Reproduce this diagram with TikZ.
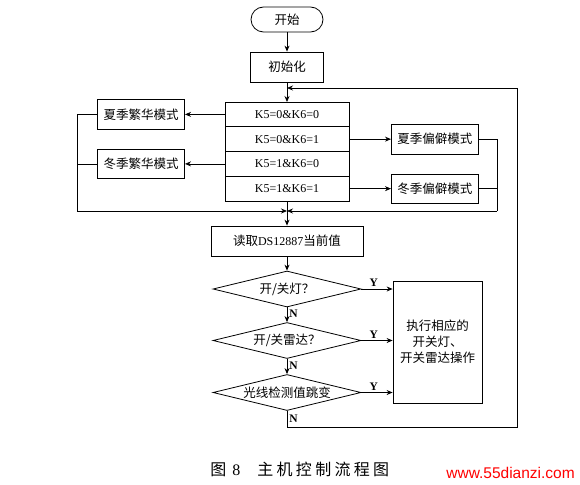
\documentclass[tikz,border=0pt]{standalone}
\usepackage{fontspec}
\setmainfont{Liberation Serif}
\newfontfamily\cjk{Noto Sans CJK SC}
\newfontfamily\webfont{Liberation Sans}
\usetikzlibrary{arrows.meta, shapes.geometric, positioning}

\begin{document}
\begin{tikzpicture}[x=1pt, y=-1pt, line width=0.8pt,
    >={Stealth[length=6pt,width=5pt]},
    box/.style={draw, rectangle, inner sep=0pt, font=\cjk\fontsize{12.5}{16}\selectfont},
    sidebox/.style={box, minimum width=87pt, minimum height=29.5pt},
    kbox/.style={draw, rectangle, inner sep=0pt, outer sep=0pt,
      minimum width=124pt, minimum height=24.75pt, font=\fontsize{12}{14}\selectfont},
    test/.style={draw, diamond, aspect=4.08, inner sep=0pt,
      minimum width=148pt, minimum height=36pt, font=\cjk\fontsize{12.5}{14}\selectfont},
    lbl/.style={font=\bfseries\fontsize{11.5}{12}\selectfont, inner sep=2pt}]
  \useasboundingbox (0,0) rectangle (580,484);

  %--- start and init ---
  \node[box, rounded corners=12.5pt, minimum width=72pt, minimum height=25pt] (start) at (287,19.5) {开始};
  \node[box, minimum width=73pt, minimum height=30pt] (init) at (287,67) {初始化};

  %--- key states ---
  \node[kbox] (k1) at (287,114.4) {K5=0\&K6=0};
  \node[kbox, below=0pt of k1] (k2) {K5=0\&K6=1};
  \node[kbox, below=0pt of k2] (k3) {K5=1\&K6=0};
  \node[kbox, below=0pt of k3] (k4) {K5=1\&K6=1};

  %--- modes ---
  \node[sidebox, left=40pt of k1] (sfan) {夏季繁华模式};
  \node[sidebox, left=40pt of k3] (wfan) {冬季繁华模式};
  \node[sidebox, right=42pt of k2] (srem) {夏季偏僻模式};
  \node[sidebox, right=42pt of k4] (wrem) {冬季偏僻模式};

  %--- main loop ---
  \node[box, minimum width=152pt, minimum height=30pt] (read) at (287,241)
    {读取{\rmfamily\fontsize{12}{14}\selectfont DS12887}当前值};
  \node[test] (d1) at (287,289) {开/关灯？};
  \node[test] (d2) at (287,340.5) {开/关雷达？};
  \node[test] (d3) at (287,392.5) {光线检测值跳变};
  \node[box, align=center, minimum width=89pt, minimum height=122pt] (act) at (437.5,342)
    {执行相应的\\开关灯、\\开关雷达操作};

  \coordinate (entry) at (287,88);
  \coordinate (merge) at (287,211);
  \coordinate (lbend) at (77,211);
  \coordinate (rbend) at (497,211);
  \coordinate (loopbr) at (517,427);

  % top part
  \draw[->] (start) -- (init);
  \draw[->] (init) -- (k1);
  \draw[->] (k1) -- (sfan);
  \draw[->] (k3) -- (wfan);
  \draw[->] (k2) -- (srem);
  \draw[->] (k4) -- (wrem);

  % merging back
  \draw (sfan.west) -| (lbend);
  \draw (wfan.west) -- (wfan.west -| lbend);
  \draw[->] (lbend) -- (merge);
  \draw (srem.east) -| (rbend);
  \draw (wrem.east) -- (wrem.east -| rbend);
  \draw[->] (rbend) -- (merge);

  % tests
  \draw[->] (k4.south) -- (k4.south |- read.north);
  \draw[->] (read.south -| d1.north) -- (d1.north);
  \draw[->] (d1) -- (d2) node[lbl, right, pos=0.45] {N};
  \draw[->] (d2) -- (d3) node[lbl, right, pos=0.45] {N};
  \draw[->] (d1.east) -- (d1.east -| act.west) node[lbl, above, pos=0.4] {Y};
  \draw[->] (d2.east) -- (d2.east -| act.west) node[lbl, above, pos=0.4] {Y};
  \draw[->] (d3.east) -- (d3.east -| act.west) node[lbl, above, pos=0.4] {Y};
  \draw[->] (d3.south) |- (loopbr) node[lbl, right, pos=0.25] {N} |- (entry);

  %--- caption ---
  \node[anchor=base west, inner sep=0pt, font=\fontsize{16}{18}\selectfont] (cap) at (210,475)
    {{\cjk 图}\hspace{6pt}8\hspace{17pt}{\cjk 主\hspace{3.3pt}机\hspace{3.3pt}控\hspace{3.3pt}制\hspace{3.3pt}流\hspace{3.3pt}程\hspace{3.3pt}图}};
  \node[anchor=base west, inner sep=0pt, text=red, font=\webfont\fontsize{15.5}{17}\selectfont] (web) at (446,478)
    {www.55dianzi.com};
\end{tikzpicture}
\end{document}
